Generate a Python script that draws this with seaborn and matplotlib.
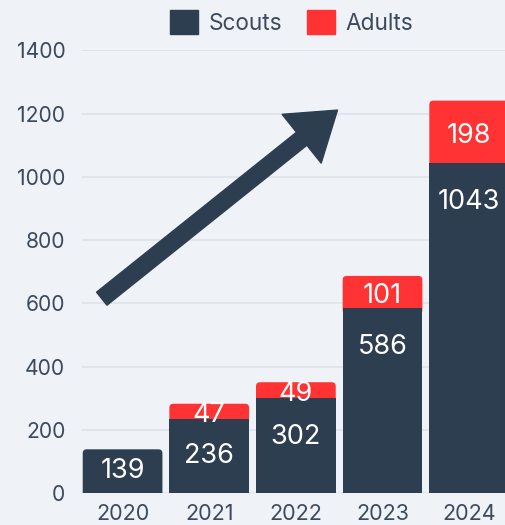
import numpy as np
import pandas as pd
import matplotlib
matplotlib.use("Agg")
import matplotlib.pyplot as plt
from matplotlib.patches import Patch, FancyBboxPatch
import seaborn as sns

years = ["2020", "2021", "2022", "2023", "2024"]
scouts = [139, 236, 302, 586, 1043]
adults = [0, 47, 49, 101, 198]

# trend arrow: start / end in (category index, value)
arrow_start = (-0.24, 615)
arrow_end = (2.48, 1211)

NAVY = "#2c3e50"
RED = "#ff3333"
BG = "#eff2f7"
TEXT = "#3b4a5e"

sns.set_theme(style="white")
plt.rcParams["font.family"] = ["Inter", "DejaVu Sans"]

df = pd.DataFrame({"year": years, "Scouts": scouts, "Adults": adults})
df["total"] = df["Scouts"] + df["Adults"]

fig = plt.figure(figsize=(5.05, 5.25), dpi=100, facecolor=BG)
ax = fig.add_axes([0.1624, 0.0604, 0.8376 + 0.02, 0.8438])
ax.set_facecolor(BG)

sns.barplot(data=df, x="year", y="total", order=years, color=RED,
            width=0.92, saturation=1, linewidth=0, ax=ax, zorder=2)
sns.barplot(data=df, x="year", y="Scouts", order=years, color=NAVY,
            width=0.92, saturation=1, linewidth=0, ax=ax, zorder=3)

# rounded top corners (bottom corners tucked away under other bars / axis)
px_per_unit = 63.3 / 200
px_per_cat = 86.55
rad_x = 4 / px_per_cat
aspect = (4 / px_per_unit) / rad_x
bars = list(ax.patches)
n = len(years)
for k, rect in enumerate(bars):
    i = k % n
    if k < n and adults[i] == 0:
        rect.remove()          # no adult segment to show
        continue
    if k >= n and adults[i] > 0:
        continue               # scouts segment under an adult segment stays square
    x0, w, top = rect.get_x(), rect.get_width(), rect.get_height()
    y0 = scouts[i] - 20 if k < n else -30
    fb = FancyBboxPatch((x0, y0), w, top - y0,
                        boxstyle=f"round,pad=0,rounding_size={rad_x}",
                        mutation_aspect=aspect, facecolor=rect.get_facecolor(),
                        linewidth=0, zorder=rect.get_zorder())
    rect.remove()
    ax.add_patch(fb)

ax.set_ylim(0, 1400)
ax.set_xlim(-0.468, 4.53)
ax.set_yticks(np.arange(0, 1401, 200))
ax.grid(axis="y", color="#dde2ea", linewidth=1.2, zorder=0)
ax.set_axisbelow(True)
for s in ax.spines.values():
    s.set_visible(False)
ax.set_xlabel("")
ax.set_ylabel("")
ax.tick_params(axis="y", length=0, pad=12, labelsize=15.2, labelcolor=TEXT)
ax.tick_params(axis="x", length=0, pad=8, labelsize=15.5, labelcolor=TEXT)

# value labels
for i, (s, a) in enumerate(zip(scouts, adults)):
    ys = max(s / 2, s - 39 / px_per_unit)
    ax.text(i, ys, str(s), ha="center", va="center", color="white",
            fontsize=19.5, zorder=5)
    if a > 0:
        ax.text(i, s + a / 2 - 4 / px_per_unit, str(a), ha="center",
                va="center", color="white", fontsize=19.5, zorder=5)

ax.annotate("", xy=arrow_end, xytext=arrow_start,
            arrowprops=dict(width=12, headwidth=45, headlength=33,
                            facecolor=NAVY, edgecolor=NAVY, shrink=0),
            zorder=4)

handles = [Patch(facecolor=NAVY, edgecolor=NAVY, label="Scouts"),
           Patch(facecolor=RED, edgecolor=RED, label="Adults")]
fig.legend(handles=handles, loc="center", bbox_to_anchor=(292 / 505, 1 - 22.5 / 525),
           ncol=2, frameon=False, fontsize=16.3, labelcolor=TEXT,
           handlelength=1.2, handleheight=1.2, handletextpad=0.5,
           columnspacing=1.1)

fig.savefig("out.png", dpi=100, facecolor=BG)
